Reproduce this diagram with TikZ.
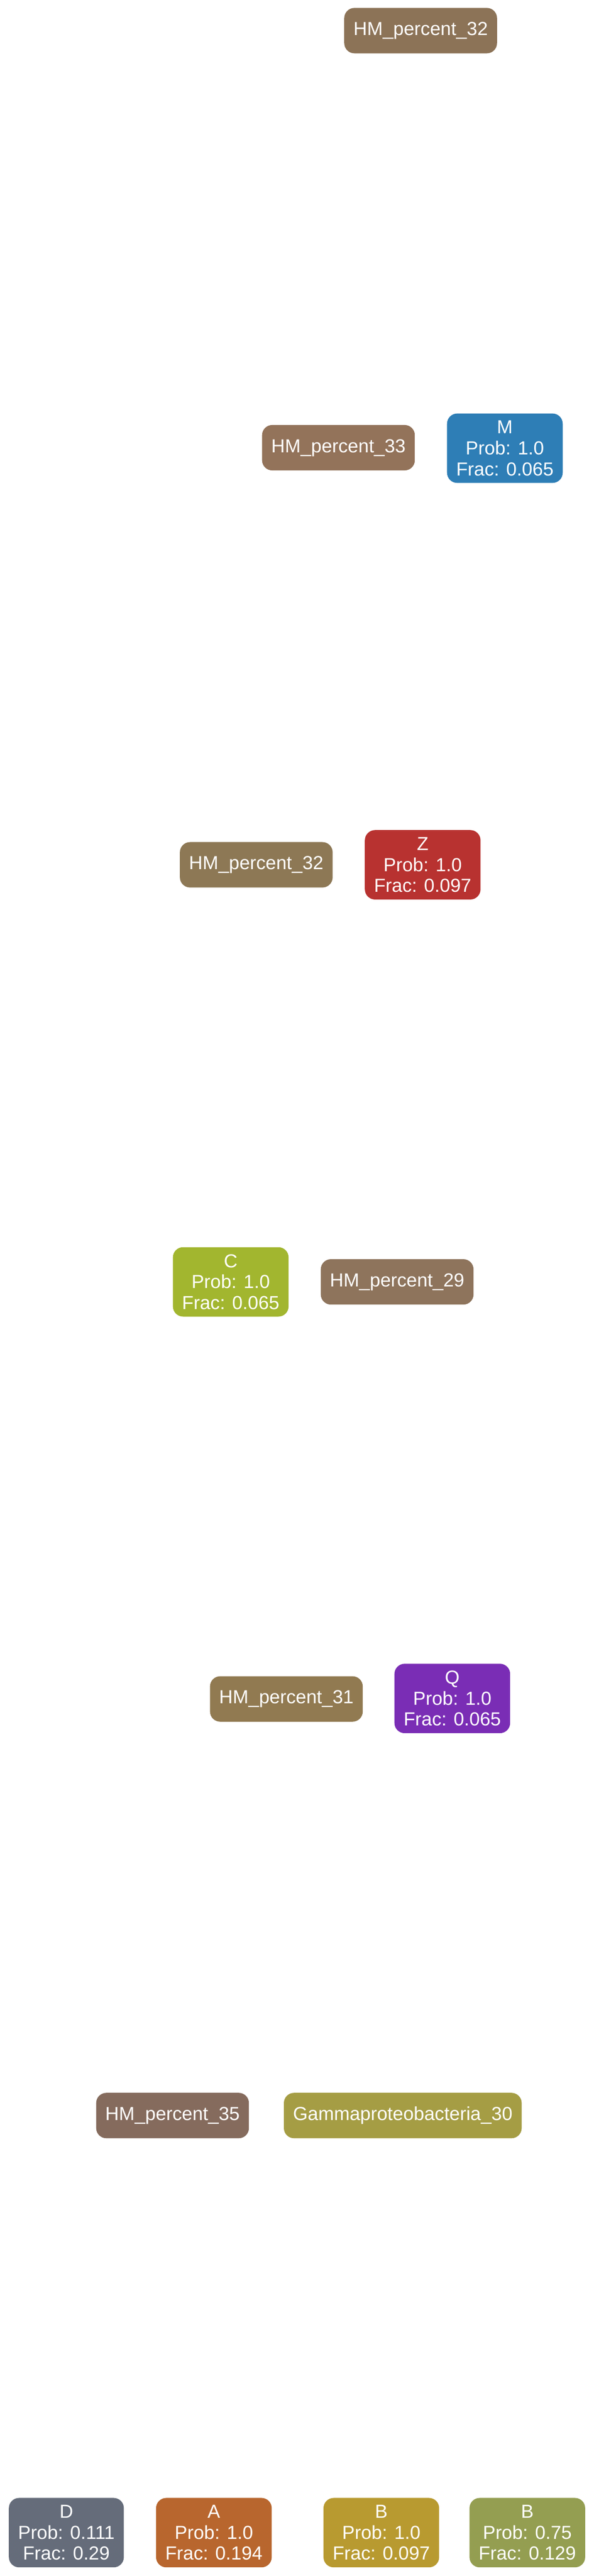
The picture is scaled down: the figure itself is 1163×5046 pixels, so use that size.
\documentclass[tikz,border=0pt]{standalone}
\usepackage{fontspec}
\setmainfont{Liberation Sans}
\usepackage{tikz}

\definecolor{hmbrown}{HTML}{8C7357}
\definecolor{hmbrownb}{HTML}{93735A}
\definecolor{hmbrownc}{HTML}{8D7855}
\definecolor{hmbrownd}{HTML}{8E745C}
\definecolor{hmbrowne}{HTML}{917A51}
\definecolor{hmbrownf}{HTML}{856B5D}
\definecolor{gamolive}{HTML}{A59D44}
\definecolor{leafM}{HTML}{2E7EB6}
\definecolor{leafZ}{HTML}{B83230}
\definecolor{leafC}{HTML}{A2B62F}
\definecolor{leafQ}{HTML}{7A2DB5}
\definecolor{leafD}{HTML}{656C7A}
\definecolor{leafA}{HTML}{B8662E}
\definecolor{leafB}{HTML}{B89A30}
\definecolor{leafBb}{HTML}{949E51}

\begin{document}
\begin{tikzpicture}[x=0.5pt,y=-0.5pt,
    split/.style={rounded corners=10pt,text=white,inner xsep=9pt,minimum height=44.5pt,
                  font=\fontsize{18.5}{20.5}\selectfont},
    leaf/.style={split,align=center,minimum height=68pt,inner ysep=2pt}]
            \useasboundingbox (0,0) rectangle (1163,5046);

            \node[split,fill=hmbrown]  (hm32)  at (824,60)   {HM\_percent\_32};

            \node[split,fill=hmbrownb] (hm33)  at (663,877)  {HM\_percent\_33};
            \node[leaf,fill=leafM]     (M)     at (989,878)  {M\\Prob: 1.0\\Frac: 0.065};

            \node[split,fill=hmbrownc] (hm32b) at (502,1694) {HM\_percent\_32};
            \node[leaf,fill=leafZ]     (Z)     at (828,1694) {Z\\Prob: 1.0\\Frac: 0.097};

            \node[leaf,fill=leafC]     (C)     at (452,2511) {C\\Prob: 1.0\\Frac: 0.065};
            \node[split,fill=hmbrownd] (hm29)  at (778,2511) {HM\_percent\_29};

            \node[split,fill=hmbrowne] (hm31)  at (561,3328) {HM\_percent\_31};
            \node[leaf,fill=leafQ]     (Q)     at (886,3327) {Q\\Prob: 1.0\\Frac: 0.065};

            \node[split,fill=hmbrownf] (hm35)  at (338,4144) {HM\_percent\_35};
            \node[split,fill=gamolive] (gam30) at (789,4144) {Gammaproteobacteria\_30};

            \node[leaf,fill=leafD]     (D)     at (130,4961)  {D\\Prob: 0.111\\Frac: 0.29};
            \node[leaf,fill=leafA]     (A)     at (419,4961)  {A\\Prob: 1.0\\Frac: 0.194};
            \node[leaf,fill=leafB]     (B)     at (747,4961)  {B\\Prob: 1.0\\Frac: 0.097};
            \node[leaf,fill=leafBb]    (Bb)    at (1033,4961) {B\\Prob: 0.75\\Frac: 0.129};

          \end{tikzpicture}
\end{document}
